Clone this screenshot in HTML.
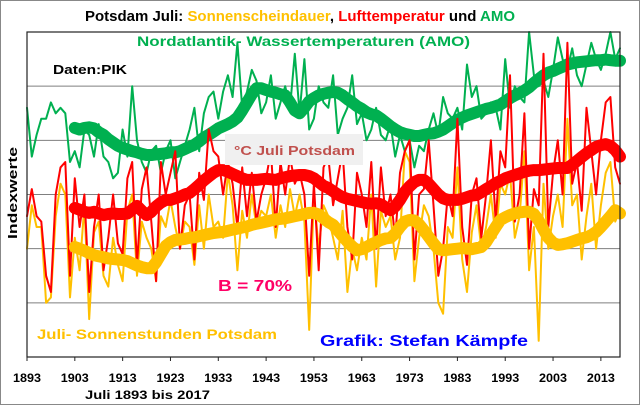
<!DOCTYPE html>
<html><head><meta charset="utf-8"><style>
html,body{margin:0;padding:0;background:#fff;}
svg{display:block;font-family:"Liberation Sans",Arial,sans-serif;font-weight:bold;}
</style></head><body>
<svg id="chart" width="640" height="405" viewBox="0 0 640 405" xmlns="http://www.w3.org/2000/svg">
<rect x="0.5" y="0.5" width="639" height="404" fill="#fff" stroke="#888" stroke-width="1"/>
<g id="grid"></g>
<g id="series"></g>
<rect x="27" y="32" width="593" height="325" fill="none" stroke="#222" stroke-width="1.2"/>
<g id="xticks"></g>
<text x="85" y="21" font-size="15" textLength="430" lengthAdjust="spacingAndGlyphs"><tspan fill="#000">Potsdam Juli: </tspan><tspan fill="#ffc000">Sonnenscheindauer</tspan><tspan fill="#000">, </tspan><tspan fill="#ff0000">Lufttemperatur</tspan><tspan fill="#000"> und </tspan><tspan fill="#00b050">AMO</tspan></text>
<text x="137" y="46" font-size="14" fill="#00b050" textLength="333" lengthAdjust="spacingAndGlyphs">Nordatlantik- Wassertemperaturen  (AMO)</text>
<text x="53" y="74" font-size="13" fill="#000" textLength="74" lengthAdjust="spacingAndGlyphs">Daten:PIK</text>
<rect x="225" y="134" width="138" height="31" fill="#f0f0f0"/>
<text x="234" y="155" font-size="13" fill="#c0504d" textLength="121" lengthAdjust="spacingAndGlyphs">°C Juli Potsdam</text>
<text x="218" y="291" font-size="16" fill="#ff0066" textLength="74" lengthAdjust="spacingAndGlyphs">B = 70%</text>
<text x="37" y="339" font-size="14" fill="#ffc000" textLength="240" lengthAdjust="spacingAndGlyphs">Juli- Sonnenstunden Potsdam</text>
<text x="320" y="346" font-size="16" fill="#0000ff" textLength="208" lengthAdjust="spacingAndGlyphs">Grafik: Stefan Kämpfe</text>
<text x="0" y="0" font-size="13" fill="#000" text-anchor="middle" textLength="92" lengthAdjust="spacingAndGlyphs" transform="translate(17,193) rotate(-90)">Indexwerte</text>
<text x="85" y="399" font-size="12" fill="#000" textLength="125" lengthAdjust="spacingAndGlyphs">Juli 1893 bis 2017</text>
</svg>
<script>
const firstYear = 1893;
const smoothStart = 1903;
const tickYears = [1893,1903,1913,1923,1933,1943,1953,1963,1973,1983,1993,2003,2013];
const gridValues = [10,20,30,40,50];
const amoRaw = [46,37,41,44,44,47,45,46,45,36,
38,35,42,41,37,43,37,36,33,34,
42,37,50,40,36,34,38,39,34,38,
40,33,36,39,42,46,38,45,48,49,
44,49,52,48,58,46,49,53,51,45,
47,52,44,47,50,46,56,45,55,42,
44,50,47,46,52,41,44,46,52,43,
45,40,42,46,41,40,43,37,41,38,
40,35,39,38,42,45,41,48,45,44,
46,42,54,48,50,44,45,47,46,42,
55,46,50,48,47,60,52,50,51,48,
53,59,55,53,57,52,50,54,58,55,
53,56,60,55,57];
const tempRaw = [26,31,26,25,15,12,30,35,36,15,
33,24,30,12,24,30,16,22,30,21,
19,33,36,17,31,35,25,14,36,30,
34,38,20,28,30,18,34,29,42,38,
37,30,36,32,24,35,26,34,25,30,
33,38,24,36,30,37,32,34,30,15,
32,16,35,37,28,33,38,24,18,34,
30,24,36,20,35,26,30,22,34,38,
40,18,30,31,40,28,15,20,30,26,
44,24,17,30,33,22,30,40,25,38,
35,52,25,30,45,20,31,28,56,24,
34,40,30,58,32,36,27,46,38,30,
40,47,48,35,32];
const sunRaw = [20,28,24,24,10,11,26,32,30,11,
22,16,28,7,23,25,15,13,22,17,
14,27,30,15,25,22,20,14,26,24,
29,24,20,25,24,17,28,20,30,24,
25,22,34,28,16,27,22,30,24,27,
26,30,22,28,24,31,26,30,25,5,
30,20,28,26,22,18,27,12,20,16,
22,18,30,13,27,24,26,18,22,38,
36,14,22,28,26,20,10,8,24,22,
35,18,12,23,28,20,24,30,22,32,
30,34,22,26,38,16,24,3,32,20,
26,30,24,44,28,30,18,26,32,20,
28,34,36,25,27];
const amoSmooth = [42.3,42.0,42.3,42.4,42.2,41.5,41,40.2,39.6,39,
38.6,38.3,38,37.8,37.5,37.3,37.3,37.4,37.5,37.6,
37.8,37.8,38,38.4,38.8,39.2,39.8,40.5,41,41.6,
42.2,42.6,43,43.5,44.2,45.5,47,48.5,49.6,49.6,
49.3,49,48.8,48.5,48.3,47,45.5,45,46,47.2,
47.8,48.3,48.6,48.8,48.9,48.8,48.3,47.6,47,46.3,
45.8,45.2,44.8,44.6,44,43.3,42.6,42,41.5,41.2,
41,40.8,40.8,41,41.2,41.3,41.6,42,42.6,43.2,
43.8,44.2,44.6,44.9,45.2,45.5,45.8,46,46.3,46.6,
47.2,47.8,48.3,48.7,49.2,49.8,50.6,51.3,52,52.5,
52.8,53.2,53.6,54,54.2,54.4,54.5,54.6,54.7,54.8,
54.8,54.9,54.8,54.7,54.7];
const tempSmooth = [27.5,27.2,26.8,26.6,26.8,26.5,26.2,26.4,26.5,26.4,
26.4,26.5,27.2,27.9,27,26.2,26.8,27.8,28.5,29,
29,29.3,29.6,30,30.3,31,31.8,32.6,33.3,34,
34.5,34.5,34.2,33.8,33.4,33,32.7,32.7,32.7,32.8,
32.9,32.8,32.7,33,33.2,33.4,33.5,33.6,33.6,33.4,
33,32.3,31.6,31.2,30.6,30,29.5,29.2,29,28.8,
28.6,28.4,28.3,28.4,28.2,27.6,27.1,27.8,29,30.5,
31.5,32.3,32.7,32.7,32,31,30,29.3,29,29,
29,29.2,29.5,29.8,29.9,30.4,31,31.5,32.1,32.5,
33,33.3,33.6,33.9,34.2,34.4,34.5,34.5,34.6,34.7,
34.8,34.9,34.9,34.9,35.5,36.2,36.9,37.6,38.2,38.8,
39.1,39.3,39,38.2,37];
const sunSmooth = [20.3,20,19.6,19.2,18.8,18.6,18.4,18.2,18.1,18,
17.9,17.7,17.3,16.9,16.6,16.4,16.4,17.5,19,20.5,
21.2,21.6,21.7,21.8,22,22.1,22.3,22.5,22.7,22.9,
23,23.1,23.3,23.5,23.7,23.9,24.1,24.4,24.6,24.8,
25,25.2,25.4,25.5,25.6,25.8,26,26.2,26.4,26.6,
26.6,26.3,25.6,24.9,24.4,23.4,22.3,21.3,20.4,19.7,
19.9,20.3,20.8,21.2,21.6,21.9,22,22.8,24,25,
25.3,25.2,24.5,23.4,22.2,21,19.9,19.7,19.8,19.9,
20,20.1,20,19.9,20.1,20.3,21.2,22.6,24,25.3,
25.8,26.2,26.5,26.7,26.8,26.8,26.4,25.2,23.5,22,
21.1,20.7,20.8,21,21.3,21.6,21.9,22.1,22.5,23.1,
24,25,26,27.1,26.5];

const NS = 'http://www.w3.org/2000/svg';
const X0 = 27, X1 = 620, Y0 = 357, Y1 = 32, lastYear = 2017, VMAX = 60;
function xs(year){ return X0 + (year - firstYear) * (X1 - X0) / (lastYear - firstYear); }
function ys(v){ return Y0 - v * (Y0 - Y1) / VMAX; }

const grid = document.getElementById('grid');
gridValues.forEach(v => {
  const l = document.createElementNS(NS, 'line');
  
  
  l.setAttribute('x1', X0); l.setAttribute('x2', X1);
  l.setAttribute('y1', ys(v)); l.setAttribute('y2', ys(v));
  l.setAttribute('stroke', '#7f7f7f'); l.setAttribute('stroke-width', '1');
  grid.appendChild(l);
});

const xt = document.getElementById('xticks');
tickYears.forEach(yr => {
  const t = document.createElementNS(NS, 'line');
  
  
  t.setAttribute('x1', xs(yr)); t.setAttribute('x2', xs(yr));
  t.setAttribute('y1', Y0); t.setAttribute('y2', Y0 + 4);
  t.setAttribute('stroke', '#222');
  xt.appendChild(t);
  const tx = document.createElementNS(NS, 'text');
  
  
  tx.setAttribute('x', xs(yr)); tx.setAttribute('y', 382);
  tx.setAttribute('text-anchor', 'middle'); tx.setAttribute('font-size', '12');
  tx.setAttribute('textLength', '28'); tx.setAttribute('lengthAdjust', 'spacingAndGlyphs');
  tx.textContent = yr;
  xt.appendChild(tx);
});

const ser = document.getElementById('series');
function drawLine(arr, start, color, width, name){
  const pts = arr.map((v, i) => xs(start + i).toFixed(1) + ',' + ys(v).toFixed(1)).join(' ');
  const p = document.createElementNS(NS, 'polyline');
  
  
  p.setAttribute('points', pts);
  p.setAttribute('fill', 'none');
  p.setAttribute('stroke', color);
  p.setAttribute('stroke-width', width);
  p.setAttribute('stroke-linejoin', 'round');
  p.setAttribute('stroke-linecap', 'round');
  ser.appendChild(p);
}
drawLine(amoRaw, firstYear, '#00b050', 2, 'amo-raw-line');
drawLine(amoSmooth, smoothStart, '#00b050', 12, 'amo-smoothed-line');
drawLine(sunRaw, firstYear, '#ffc000', 2, 'sunshine-raw-line');
drawLine(tempRaw, firstYear, '#ff0000', 2, 'temperature-raw-line');
drawLine(tempSmooth, smoothStart, '#ff0000', 12, 'temperature-smoothed-line');
drawLine(sunSmooth, smoothStart, '#ffc000', 12, 'sunshine-smoothed-line');
</script>
</body></html>
